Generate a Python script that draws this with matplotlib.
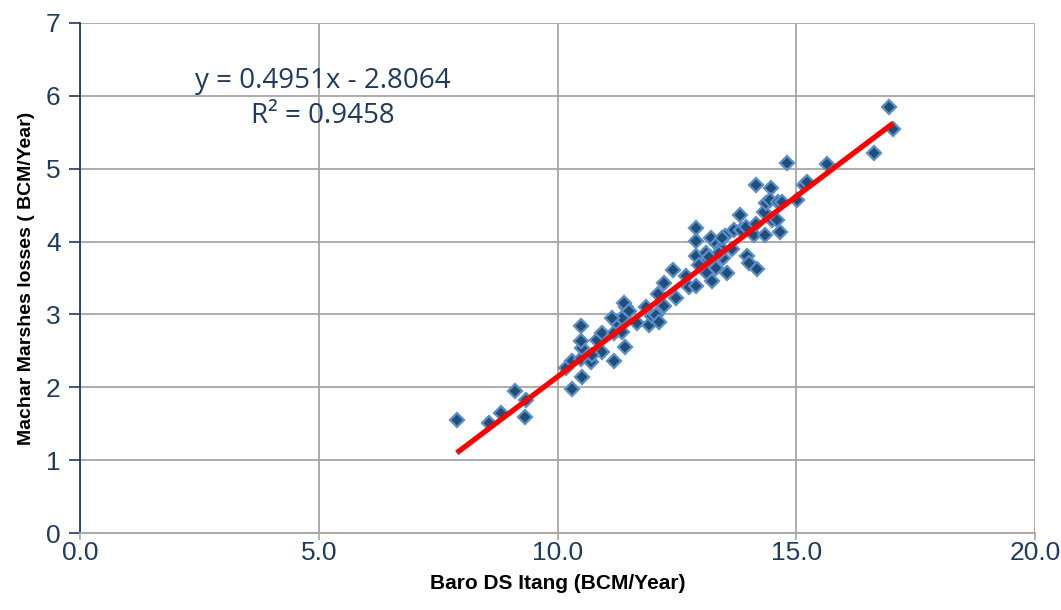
import numpy as np
import matplotlib
matplotlib.use("Agg")
import matplotlib.pyplot as plt

# ------------------------------
# Data
# ------------------------------
baro_ds_itang = [
    7.89, 8.56, 8.81, 9.10, 9.35, 9.31, 10.31, 10.52, 10.17, 10.31,
    10.50, 10.71, 10.94, 10.73, 10.52, 10.50, 10.82, 10.94, 10.50, 11.19,
    11.42, 11.19, 11.36, 11.23, 11.36, 11.44, 11.40, 11.49, 11.67, 11.92,
    11.97, 11.86, 12.07, 12.13, 12.24, 12.49, 12.11, 12.24, 12.41, 12.70,
    12.76, 12.91, 12.91, 12.91, 12.91, 13.12, 13.22, 13.14, 13.24, 13.31,
    13.33, 13.43, 13.51, 13.47, 13.56, 13.66, 13.70, 13.83, 13.85, 13.97,
    14.02, 13.95, 14.12, 14.18, 14.16, 14.16, 14.35, 14.33, 14.37, 14.48,
    14.44, 14.50, 14.60, 14.62, 14.71, 14.67, 14.81, 15.02, 15.17, 15.23,
    15.65, 16.63, 16.95, 17.03, 13.12, 13.39, 13.18, 12.97, 11.15, 13.45,
]
machar_losses = [
    1.55, 1.51, 1.65, 1.95, 1.83, 1.59, 1.98, 2.14, 2.27, 2.36,
    2.39, 2.35, 2.49, 2.45, 2.54, 2.64, 2.65, 2.75, 2.84, 2.36,
    2.55, 2.75, 2.76, 2.90, 2.95, 3.10, 3.16, 3.05, 2.88, 2.86,
    2.98, 3.10, 2.99, 2.90, 3.12, 3.23, 3.28, 3.43, 3.61, 3.53,
    3.37, 3.39, 4.19, 4.01, 3.80, 3.72, 4.05, 3.57, 3.46, 3.64,
    3.97, 3.91, 4.07, 3.78, 3.57, 3.90, 4.16, 4.37, 4.16, 3.80,
    3.71, 4.20, 4.09, 3.63, 4.24, 4.77, 4.09, 4.40, 4.53, 4.74,
    4.57, 4.30, 4.30, 4.55, 4.55, 4.13, 5.08, 4.57, 4.78, 4.82,
    5.07, 5.22, 5.85, 5.54, 3.85, 3.85, 3.79, 3.68, 2.95, 4.05,
]

# trend line from the chart
slope = 0.4951
intercept = -2.8064
r_squared = 0.9458

x_ticks = [0, 5, 10, 15, 20]
y_ticks = [0, 1, 2, 3, 4, 5, 6, 7]

navy = "#1F3B5F"
grid_gray = "#A6A6A6"

# ------------------------------
# Figure
# ------------------------------
fig = plt.figure(figsize=(10.61, 6.10), dpi=100)
ax = fig.add_axes([0.0754, 0.1262, 0.9001, 0.8361])

ax.plot(baro_ds_itang, machar_losses, linestyle="none", marker="D",
        markersize=7.5, markerfacecolor="#1F4E79", markeredgecolor="#5B8DC8",
        markeredgewidth=1.6, zorder=3)

x_line = np.array([min(baro_ds_itang), max(baro_ds_itang)])
ax.plot(x_line, slope * x_line + intercept, color="#FF0000", linewidth=3.8,
        solid_capstyle="butt", zorder=4)

ax.set_xlim(0, 20)
ax.set_ylim(0, 7)
ax.set_xticks(x_ticks)
ax.set_yticks(y_ticks)
ax.set_xticklabels([f"{t:.1f}" for t in x_ticks])
ax.set_yticklabels([str(t) for t in y_ticks])

ax.grid(True, color=grid_gray, linewidth=1.3)
ax.set_axisbelow(True)

for side in ["top", "right"]:
    ax.spines[side].set_visible(False)
ax.spines["left"].set_color(navy)
ax.spines["left"].set_linewidth(1.3)
ax.spines["bottom"].set_color(grid_gray)
ax.spines["bottom"].set_linewidth(1.3)

ax.tick_params(axis="y", colors=navy, labelsize=19, length=8, width=1.2,
               direction="out", pad=6)
ax.tick_params(axis="x", colors=grid_gray, labelcolor=navy, labelsize=19,
               length=5, width=1.2, direction="out", pad=1)
for lbl in ax.get_xticklabels() + ax.get_yticklabels():
    lbl.set_family(["Liberation Sans", "DejaVu Sans"])

label_font = ["Liberation Sans Narrow", "Liberation Sans", "DejaVu Sans"]
ax.set_xlabel("Baro DS Itang (BCM/Year)", fontsize=15, fontweight="bold",
              family=label_font, labelpad=6)
ax.set_ylabel("Machar Marshes losses ( BCM/Year)", fontsize=14,
              fontweight="bold", family=label_font, labelpad=8)

ax.text(5.08, 6.2, f"y = {slope}x - {abs(intercept)}", ha="center",
        va="center", fontsize=20, color=navy, family=["Open Sans", "DejaVu Sans"])
ax.text(5.08, 5.73, f"R\u00b2 = {r_squared}", ha="center", va="center",
        fontsize=20, color=navy, family=["Open Sans", "DejaVu Sans"])

fig.savefig("out.png", dpi=100)
